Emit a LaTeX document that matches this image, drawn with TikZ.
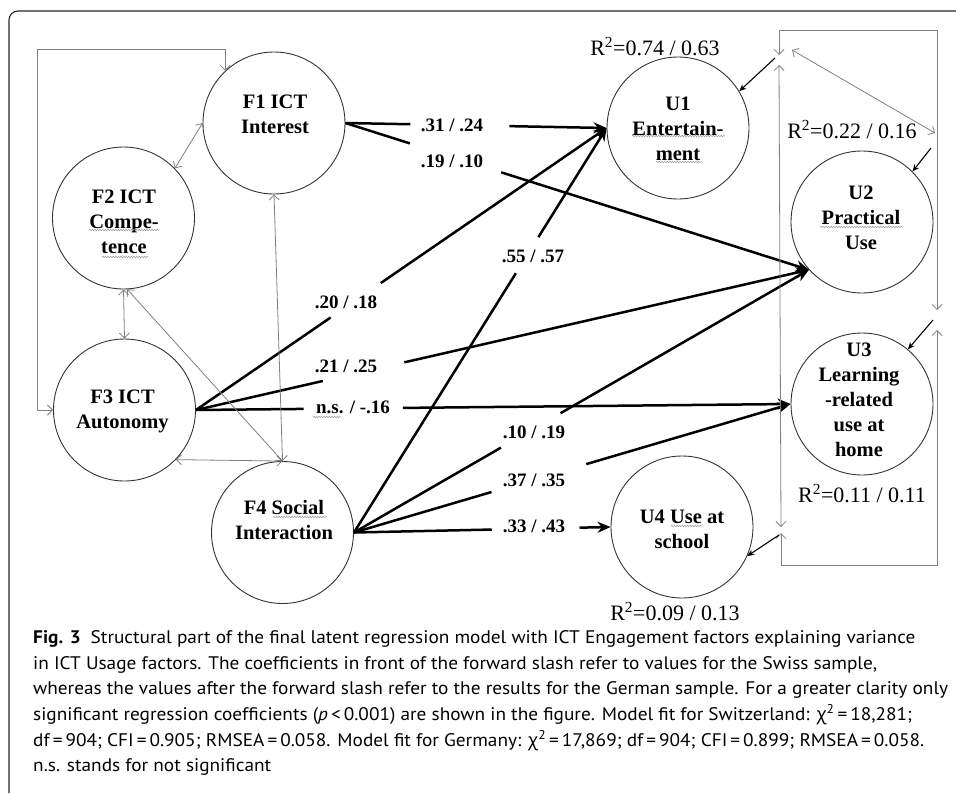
\documentclass[tikz,border=0pt]{standalone}
\usepackage{fontspec}
\setmainfont{Liberation Serif}
\newfontfamily\capfont[FakeStretch=1.06]{PT Sans}
\newfontfamily\greekfont[FakeStretch=1.02]{Open Sans}
\usetikzlibrary{arrows.meta,calc,decorations.pathmorphing}
\tikzset{
  fac/.style={circle, draw=black!80, line width=0.9pt, minimum size=142pt, inner sep=0pt},
  ftext/.style={font=\bfseries\fontsize{20.5}{25}\selectfont, align=center, inner sep=0pt},
  coef/.style={font=\bfseries\fontsize{19}{22}\selectfont, inner sep=0pt, anchor=base},
  rsq/.style={font=\fontsize{22}{26}\selectfont, inner sep=0pt, anchor=base},
  reg/.style={line width=2.5pt, black},
  regarr/.style={reg, -{Stealth[length=13pt,width=11pt]}},
  cov/.style={draw=black!50, line width=0.8pt, {Straight Barb[length=5pt,width=10pt]}-{Straight Barb[length=5pt,width=10pt]}},
  covend/.style={line width=1.1pt, black, -{Stealth[length=7pt,width=6pt]}},
  capline/.style={anchor=base west, inner sep=0pt, font=\capfont\fontsize{18.2}{22}\selectfont},
  spell/.style={draw=black!40, line width=0.5pt, decorate, decoration={snake, amplitude=0.8pt, segment length=2.6pt}},
}
\begin{document}
\begin{tikzpicture}[x=1pt,y=-1pt]
\useasboundingbox (0,0) rectangle (956,793);
% frame
\draw[line width=1.1pt, black!85, rounded corners=9pt] (956,11) -- (9,11) -- (9,793);

% factor circles
\node[fac] (f1) at (274,123) {};
\node[fac] (f2) at (123.5,218) {};
\node[fac] (f3) at (124.5,410) {};
\node[fac] (f4) at (282.5,532.5) {};
\node[fac] (u1) at (678,128) {};
\node[fac] (u2) at (862,222) {};
\node[fac] (u3) at (862,404) {};
\node[fac] (u4) at (682,527) {};

% circle texts
\node[ftext] (f1t) at (275,114) {F1 ICT\\Interest};
\node[ftext] (f2t) at (124,222) {F2 ICT\\Compe-\\tence};
\node[ftext] (f3t) at (122.5,411) {F3 ICT\\Autonomy};
\node[ftext] (f4t) at (284,520) {F4 Social\\Interaction};
\node[ftext] (u1t) at (678,129) {U1\\Entertain-\\ment};
\node[ftext] (u2t) at (861,218) {U2\\Practical\\Use};
\node[ftext] (u3t) at (859,400) {U3\\Learning\\-related\\use at\\home};
\node[ftext] (u4t) at (682,529) {U4 Use at\\school};

% spell-check wave marks under words
\draw[spell] (89,230) -- (159,230);
\draw[spell] (102,257) -- (148,257);
\draw[spell] (632,136) -- (725,136);
\draw[spell] (656,162) -- (703,162);
\draw[spell] (820,227) -- (903,227);
\draw[spell] (273,517) -- (327,517);
\draw[spell] (313,417) -- (341,417);
\draw[spell] (671,526) -- (702,526);

% R^2 labels
\node[rsq] (r1) at (655,55) {R\textsuperscript{2}=0.74 / 0.63};
\node[rsq] (r2) at (852,138) {R\textsuperscript{2}=0.22 / 0.16};
\node[rsq] (r3) at (862,502) {R\textsuperscript{2}=0.11 / 0.11};
\node[rsq] (r4) at (675,620) {R\textsuperscript{2}=0.09 / 0.13};

% regression paths
\draw[reg] (f1.east) -- ($(f1.east)!0.249!(u1.west)$);
\draw[regarr] ($(f1.east)!0.628!(u1.west)$) -- (u1.west);
\draw[reg] (f1.east) -- ($(f1.east)!0.139!(u2.222)$);
\draw[regarr] ($(f1.east)!0.336!(u2.222)$) -- (u2.222);
\draw[reg] (f3.east) -- ($(f3.east)!0.328!(u1.west)$);
\draw[regarr] ($(f3.east)!0.450!(u1.west)$) -- (u1.west);
\draw[reg] (f4.east) -- ($(f4.east)!0.641!(u1.west)$);
\draw[regarr] ($(f4.east)!0.730!(u1.west)$) -- (u1.west);
\draw[reg] (f3.east) -- ($(f3.east)!0.207!(u2.222)$);
\draw[regarr] ($(f3.east)!0.340!(u2.222)$) -- (u2.222);
\draw[reg] (f3.east) -- ($(f3.east)!0.181!(u3.west)$);
\draw[regarr] ($(f3.east)!0.348!(u3.west)$) -- (u3.west);
\draw[reg] (f4.east) -- ($(f4.east)!0.323!(u2.222)$);
\draw[regarr] ($(f4.east)!0.454!(u2.222)$) -- (u2.222);
\draw[reg] (f4.east) -- ($(f4.east)!0.315!(u3.west)$);
\draw[regarr] ($(f4.east)!0.532!(u3.west)$) -- (u3.west);
\draw[reg] (f4.east) -- ($(f4.east)!0.537!(u4.west)$);
\draw[regarr] ($(f4.east)!0.879!(u4.west)$) -- (u4.west);

% coefficient labels
\node[coef] (c1) at (452,131) {.31 / .24};
\node[coef] (c2) at (452,167) {.19 / .10};
\node[coef] (c3) at (533,262) {.55 / .57};
\node[coef] (c4) at (346,308) {.20 / .18};
\node[coef] (c5) at (346,372) {.21 / .25};
\node[coef] (c6) at (353,413) {n.s. / -.16};
\node[coef] (c7) at (534,438) {.10 / .19};
\node[coef] (c8) at (534,486) {.37 / .35};
\node[coef] (c9) at (534,532) {.33 / .43};

% covariances among engagement factors
\coordinate (lt) at (37,49);
\draw[cov] (f1.133) |- (lt) |- (f3.west);
\draw[cov] (f2.44) -- (f1.west);
\draw[cov] (f2.south) -- (f3.north);
\draw[cov] (f2.-87) -- (f4.north);
\draw[cov] (f1.south) -- (f4.north);
\draw[cov] (f3.-44) -- (f4.north);

% covariances among usage factors
\coordinate (j1a) at (779,55);
\coordinate (j1b) at (779,65);
\coordinate (j1c) at (792,50);
\coordinate (j1) at (775,58);
\coordinate (j2a) at (935,133);
\coordinate (j2) at (931,148);
\coordinate (j3a) at (937,310);
\coordinate (j3b) at (937,330);
\coordinate (j3) at (933,320);
\coordinate (j4a) at (781,527);
\coordinate (j4b) at (781,533);
\coordinate (j4) at (779,535);
\coordinate (rt) at (937,30);
\coordinate (rb) at (937,565);
\draw[cov] (j1a) |- (rt) -- (j3a);
\draw[cov] (j1c) -- (j2a);
\draw[cov] (j1b) -- (j4a);
\draw[cov] (j4b) |- (rb) -- (j3b);
\draw[covend] (j1) -- (u1.31);
\draw[covend] (j2) -- (u2.45);
\draw[covend] (j3) -- (u3.50);
\draw[covend] (j4) -- (u4.-24);

% caption
\node[capline] (cap1) at (33,643) {\textbf{Fig. 3}\hspace{0.55em}Structural part of the final latent regression model with ICT Engagement factors explaining variance};
\node[capline] (cap2) at (33,669) {in ICT Usage factors. The coefficients in front of the forward slash refer to values for the Swiss sample,};
\node[capline] (cap3) at (33,694) {whereas the values after the forward slash refer to the results for the German sample. For a greater clarity only};
\node[capline] (cap4) at (33,720) {significant regression coefficients (\textit{p}\,<\,0.001) are shown in the figure. Model fit for Switzerland: {\greekfont χ}\textsuperscript{2}\,=\,18,281;};
\node[capline] (cap5) at (33,746) {df\,=\,904; CFI\,=\,0.905; RMSEA\,=\,0.058. Model fit for Germany: {\greekfont χ}\textsuperscript{2}\,=\,17,869; df\,=\,904; CFI\,=\,0.899; RMSEA\,=\,0.058.};
\node[capline] (cap6) at (33,771) {n.s. stands for not significant};
\end{tikzpicture}
\end{document}
